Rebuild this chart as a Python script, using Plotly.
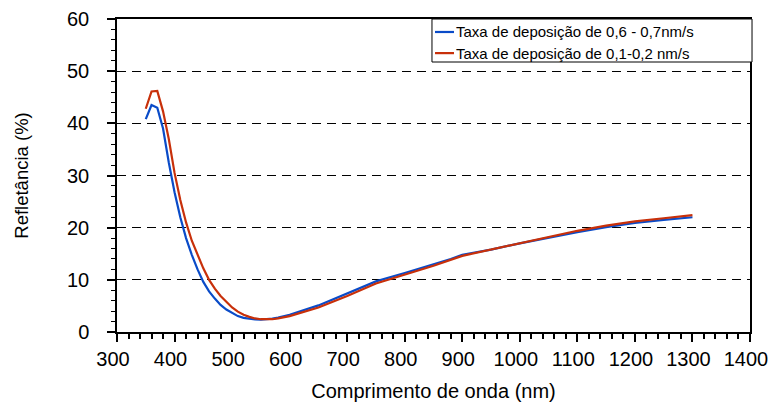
import plotly.graph_objects as go

# Reflectance spectra for two deposition rates
wl_fast = [350, 360, 370, 380, 390, 400, 410, 420, 430, 440, 450, 460, 470, 480,
           490, 500, 510, 520, 530, 540, 550, 560, 570, 580, 590, 600, 650, 700,
           750, 800, 850, 880, 900, 950, 1000, 1050, 1100, 1150, 1200, 1250, 1300]
refl_fast = [40.8, 43.5, 43.0, 39.0, 32.5, 26.8, 22.0, 18.0, 14.8, 12.0, 9.6, 7.8,
             6.4, 5.2, 4.3, 3.6, 3.05, 2.7, 2.5, 2.4, 2.38, 2.42, 2.55, 2.75, 3.0,
             3.3, 5.1, 7.4, 9.7, 11.3, 12.9, 14.0, 14.8, 15.8, 17.0, 18.1, 19.15,
             20.1, 20.9, 21.5, 22.0]

wl_slow = [350, 360, 370, 380, 390, 400, 410, 420, 430, 440, 450, 460, 470, 480,
           490, 500, 510, 520, 530, 540, 550, 560, 570, 580, 590, 600, 650, 700,
           750, 800, 850, 900, 950, 1000, 1050, 1100, 1150, 1200, 1250, 1300]
refl_slow = [42.8, 46.1, 46.2, 42.3, 37.0, 30.5, 25.3, 21.0, 17.5, 14.8, 12.2, 10.0,
             8.3, 6.9, 5.7, 4.7, 3.9, 3.3, 2.9, 2.6, 2.45, 2.4, 2.45, 2.6, 2.8,
             3.05, 4.7, 6.9, 9.3, 11.0, 12.7, 14.6, 15.8, 17.0, 18.3, 19.4, 20.4,
             21.2, 21.8, 22.4]

label_fast = "Taxa de deposição de 0,6 - 0,7nm/s"
label_slow = "Taxa de deposição de 0,1-0,2 nm/s"
color_fast = "#0A4BC8"
color_slow = "#C8300A"

FONT = "Liberation Sans, Arial, sans-serif"

fig = go.Figure()
fig.add_trace(go.Scatter(x=wl_fast, y=refl_fast, mode="lines", name=label_fast,
                         line=dict(color=color_fast, width=2.2), showlegend=False))
fig.add_trace(go.Scatter(x=wl_slow, y=refl_slow, mode="lines", name=label_slow,
                         line=dict(color=color_slow, width=2.2), showlegend=False))

# Legend box in the upper right corner
x0, x1, y_top, y_bot = 0.4976, 1.0032, 1.0, 0.8626
fig.add_shape(type="rect", xref="paper", yref="paper", x0=x0, x1=x1, y0=y_bot, y1=y_top,
              line=dict(color="black", width=1), fillcolor="white", layer="above")
for yy, lab, col in [(0.9585, label_fast, color_fast), (0.891, label_slow, color_slow)]:
    fig.add_shape(type="line", xref="paper", yref="paper", x0=0.5024, x1=0.5324,
                  y0=yy, y1=yy, line=dict(color=col, width=2.2), layer="above")
    fig.add_annotation(xref="paper", yref="paper", x=0.533, y=yy, text=lab,
                       showarrow=False, xanchor="left", yanchor="middle",
                       font=dict(family=FONT, size=15, color="black"))

fig.update_layout(
    width=770, height=403,
    margin=dict(l=117, r=20, t=19, b=71),
    paper_bgcolor="white", plot_bgcolor="white",
    font=dict(family=FONT, size=20, color="black"),
    showlegend=False,
)
fig.update_xaxes(
    range=[300, 1400], dtick=100, tick0=300, automargin=False,
    ticklabeloverflow="allow", ticklabelshift=-4,
    showline=True, linecolor="black", linewidth=1.5, mirror=True,
    ticks="outside", ticklen=8, tickwidth=1.5, tickcolor="black",
    minor=dict(dtick=20, ticks="outside", ticklen=5, tickwidth=1.5, tickcolor="black"),
    showgrid=False, zeroline=False,
    title=dict(text="Comprimento de onda (nm)", font=dict(size=20), standoff=15),
    tickfont=dict(size=20),
)
fig.update_yaxes(
    range=[0, 60], dtick=10, automargin=False,
    ticklabeloverflow="allow",
    showline=True, linecolor="black", linewidth=1.5, mirror=True,
    ticks="outside", ticklen=8, tickwidth=1.5, tickcolor="black",
    minor=dict(dtick=2, ticks="outside", ticklen=4, tickwidth=1, tickcolor="black"),
    showgrid=True, gridcolor="black", gridwidth=1, griddash="9px,6px",
    zeroline=False, ticklabelstandoff=14,
    title=dict(text="Refletância (%)", font=dict(size=18.5), standoff=34),
    tickfont=dict(size=20),
)

fig.write_html("out.html")
